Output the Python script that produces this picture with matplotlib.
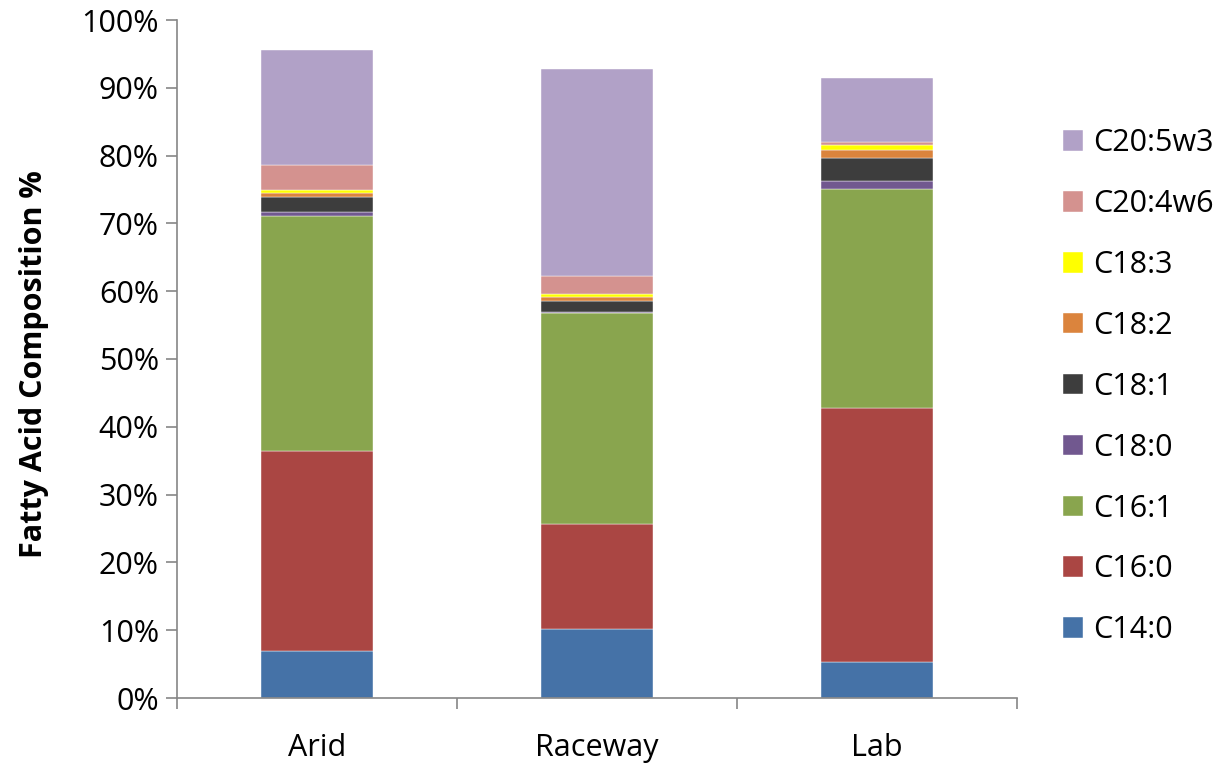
import numpy as np
import matplotlib.pyplot as plt
from matplotlib.ticker import PercentFormatter

plt.rcParams["font.family"] = ["Open Sans", "DejaVu Sans"]

sites = ["Arid", "Raceway", "Lab"]
acids = ["C14:0", "C16:0", "C16:1", "C18:0", "C18:1", "C18:2", "C18:3", "C20:4w6", "C20:5w3"]

# composition in percent, one list per fatty acid (Arid, Raceway, Lab)
c14_0 = [6.9, 10.2, 5.3]
c16_0 = [29.6, 15.5, 37.5]
c16_1 = [34.6, 31.1, 32.3]
c18_0 = [0.6, 0.1, 1.2]
c18_1 = [2.2, 1.6, 3.4]
c18_2 = [0.6, 0.7, 1.1]
c18_3 = [0.5, 0.4, 0.8]
c20_4w6 = [3.6, 2.7, 0.4]
c20_5w3 = [17.0, 30.4, 9.4]

series = [c14_0, c16_0, c16_1, c18_0, c18_1, c18_2, c18_3, c20_4w6, c20_5w3]
colors = ["#4572A7", "#AA4643", "#89A54E", "#71588F", "#3D3D3D",
          "#DB843D", "#FFFF00", "#D4928F", "#B1A1C7"]

fig = plt.figure(figsize=(12.3, 7.65), dpi=100)
ax = fig.add_axes([177 / 1230, 1 - 698 / 765, 840 / 1230, 678 / 765])

x = np.arange(len(sites))
bottom = np.zeros(len(sites))
handles = []
for name, vals, col in zip(acids, series, colors):
    vals = np.array(vals)
    b = ax.bar(x, vals, 0.4, bottom=bottom, color=col, label=name,
               edgecolor="white", linewidth=0.3)
    handles.append(b)
    bottom += vals

ax.set_xlim(-0.5, 2.5)
ax.set_ylim(0, 100)
ax.set_yticks(np.arange(0, 101, 10))
ax.yaxis.set_major_formatter(PercentFormatter(decimals=0))
ax.set_xticks(x)
ax.set_xticklabels(sites)
ax.set_xticks([-0.5, 0.5, 1.5, 2.5], minor=True)
ax.tick_params(axis="x", which="major", length=0, pad=25, labelsize=22)
ax.tick_params(axis="x", which="minor", length=8, color="#868686", width=1.2)
ax.tick_params(axis="y", length=8, color="#868686", width=1.2, labelsize=22, pad=5)

for side in ["top", "right"]:
    ax.spines[side].set_visible(False)
for side in ["left", "bottom"]:
    ax.spines[side].set_color("#868686")
    ax.spines[side].set_linewidth(1.2)

ax.set_ylabel("Fatty Acid Composition %", fontsize=22, fontweight="bold")
ax.yaxis.set_label_coords(-0.152, 0.493)

ax.legend(handles[::-1], acids[::-1], loc="center left",
          bbox_to_anchor=(1.022, 0.459), frameon=False, fontsize=22,
          handlelength=0.65, handleheight=0.65, labelspacing=1.01,
          handletextpad=0.33)

fig.savefig("out.png", dpi=100)
